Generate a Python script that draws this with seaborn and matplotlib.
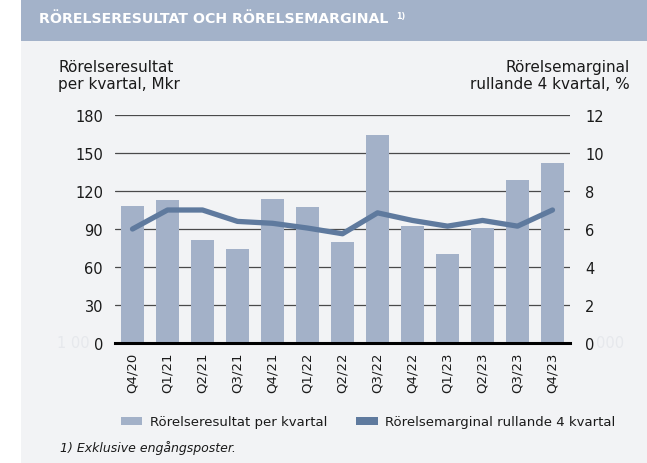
import matplotlib
matplotlib.use("Agg")
import matplotlib.pyplot as plt
import seaborn as sns
import pandas as pd
import numpy as np
from matplotlib.patches import Rectangle, Patch

quarters = ["Q4/20", "Q1/21", "Q2/21", "Q3/21", "Q4/21", "Q1/22", "Q2/22",
            "Q3/22", "Q4/22", "Q1/23", "Q2/23", "Q3/23", "Q4/23"]
resultat = [108, 113, 81, 74, 114, 107, 80, 164, 92.5, 70, 91, 129, 142]
marginal = [6.0, 7.0, 7.0, 6.4, 6.3, 6.05, 5.75, 6.85, 6.45, 6.15, 6.45, 6.15, 7.0]
left_ticks = [0, 30, 60, 90, 120, 150, 180]
right_ticks = [0, 2, 4, 6, 8, 10, 12]

BAR = "#a3b1c8"
LINE = "#5f7a9e"
BAND = "#a3b2c9"
PANEL = "#f2f3f5"
TXT = "#1a1a1a"

sns.set_style("white")
plt.rcParams["font.family"] = ["DejaVu Sans"]

W, H = 647, 464
fig = plt.figure(figsize=(W / 100, H / 100), dpi=100)
fig.patch.set_facecolor("white")
fig.patches.append(Rectangle((21 / W, 0), 1 - 21 / W, (H - 42) / H, transform=fig.transFigure,
                             facecolor=PANEL, edgecolor="none", zorder=-10))
fig.patches.append(Rectangle((21 / W, (H - 42) / H), 1 - 21 / W, 42 / H, transform=fig.transFigure,
                             facecolor=BAND, edgecolor="none", zorder=-10))

fig.text(39 / W, 1 - 19 / H, "RÖRELSERESULTAT OCH RÖRELSEMARGINAL", color="white",
         fontsize=10.2, fontweight="bold", va="center", ha="left")
fig.text(396 / W, 1 - 16 / H, "1)", color="white", fontsize=5.8, fontweight="bold",
         va="center", ha="left")

ax = fig.add_axes([115 / W, (H - 344) / H, 455 / W, (344 - 116) / H])
ax.set_facecolor("none")
df = pd.DataFrame({"Kvartal": quarters, "Resultat": resultat, "Marginal": marginal})

ax.set_axisbelow(True)
ax.yaxis.grid(True, color="#4a4a4a", linewidth=0.9)
sns.barplot(data=df, x="Kvartal", y="Resultat", color=BAR, width=0.66, ax=ax,
            saturation=1, zorder=2, edgecolor="none", linewidth=0)
ax.set_ylim(0, 180)
ax.set_xlim(-0.5, len(quarters) - 0.5)
ax.set_yticks(left_ticks)
ax.set_xlabel("")
ax.set_ylabel("")
for s in ["top", "right", "left"]:
    ax.spines[s].set_visible(False)
ax.spines["bottom"].set_color("black")
ax.spines["bottom"].set_linewidth(2.2)
ax.spines["bottom"].set_zorder(5)
ax.tick_params(axis="y", length=0, pad=8.6, labelsize=10.5, labelcolor=TXT)
ax.tick_params(axis="x", length=0, pad=6, labelsize=9.5, labelcolor=TXT, rotation=90)

ax2 = ax.twinx()
sns.lineplot(data=df, x="Kvartal", y="Marginal", sort=False, color=LINE, linewidth=3.8,
             ax=ax2, solid_capstyle="round", solid_joinstyle="round", zorder=4)
ax2.set_ylim(0, 12)
ax2.set_yticks(right_ticks)
ax2.set_ylabel("")
ax2.set_xlabel("")
for s in ["top", "right", "left", "bottom"]:
    ax2.spines[s].set_visible(False)
ax2.tick_params(axis="y", length=0, pad=10.8, labelsize=10.5, labelcolor=TXT)
ax2.set_xlim(-0.5, len(quarters) - 0.5)

# axis titles
fig.text(58 / W, 1 - 76 / H, "Rörelseresultat\nper kvartal, Mkr", fontsize=11, color=TXT,
         ha="left", va="center", linespacing=1.15, multialignment="left")
fig.text(630 / W, 1 - 76 / H, "Rörelsemarginal\nrullande 4 kvartal, %", fontsize=11,
         color=TXT, ha="right", va="center", linespacing=1.15, multialignment="right")

# faint ghost labels (rendering remnants in the original)
fig.text(90 / W, 1 - 344 / H, "1 00", fontsize=10.5, color="#e6e8ec", ha="right", va="center")
fig.text(596 / W, 1 - 344 / H, "000", fontsize=10.5, color="#e6e8ec", ha="left", va="center")

handles = [Patch(facecolor=BAR, edgecolor="none", label="Rörelseresultat per kvartal"),
           Patch(facecolor=LINE, edgecolor="none", label="Rörelsemarginal rullande 4 kvartal")]
fig.legend(handles=handles, loc="center", bbox_to_anchor=(368 / W, 1 - 423 / H), ncol=2,
           frameon=False, fontsize=9.5, handlelength=1.65, handleheight=0.5,
           columnspacing=2.2, handletextpad=0.55, labelcolor=TXT)

fig.text(60 / W, 1 - 448 / H, "1) Exklusive engångsposter.", fontsize=9, style="italic",
         color=TXT, ha="left", va="center")

fig.savefig("out.png", dpi=100)
